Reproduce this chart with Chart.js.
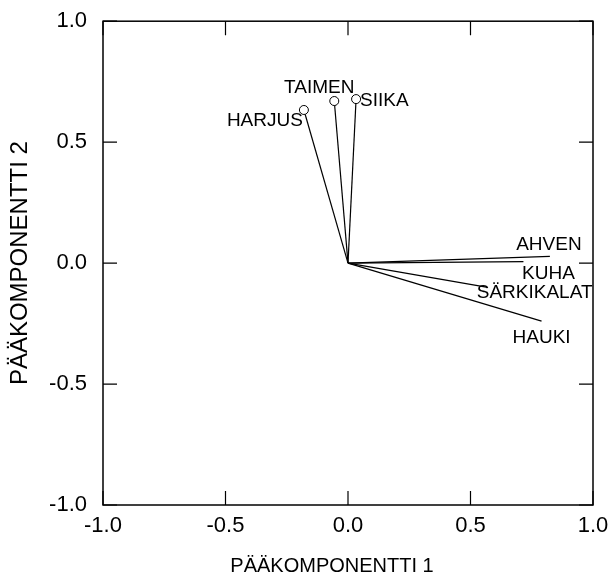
<!DOCTYPE html>
<html><head><meta charset="utf-8">
<script src="https://cdn.jsdelivr.net/npm/chart.js@4/dist/chart.umd.min.js"></script>
<style>html,body{margin:0;padding:0;background:#fff}#wrap{width:610px;height:583px}</style>
</head><body><div id="wrap"><canvas id="c" width="610" height="583"></canvas></div>
<script>
// ---- data ----
const species = ['HARJUS','TAIMEN','SIIKA','AHVEN','KUHA','SÄRKIKALAT','HAUKI'];
const pc1 = [-0.18, -0.056, 0.033, 0.824, 0.716, 0.57, 0.79];
const pc2 = [0.633, 0.67, 0.678, 0.028, 0.006, -0.10, -0.24];
const hasCircle = [true, true, true, false, false, false, false];
const tickValues = [-1.0, -0.5, 0.0, 0.5, 1.0];
const xTitle = 'PÄÄKOMPONENTTI 1';
const yTitle = 'PÄÄKOMPONENTTI 2';

// ---- styles (pixel offsets of labels from vector ends) ----
const labelStyle = [
  {dx:-1,  dy:11,  align:'right'},
  {dx:-15, dy:-13, align:'center'},
  {dx:4,   dy:2,   align:'left'},
  {dx:-1,  dy:-12, align:'center'},
  {dx:25,  dy:12,  align:'center'},
  {dx:47,  dy:5,   align:'center'},
  {dx:0,   dy:17,  align:'center'}
];
const FONT = "'Liberation Sans', Arial, Helvetica, sans-serif";
const TARGET = {left:103, top:16, right:593, bottom:505};

const datasets = species.map((s, i) => ({
  label: s,
  data: [{x:0, y:0}, {x:pc1[i], y:pc2[i]}],
  showLine: true,
  borderColor: '#000',
  borderWidth: 1.2,
  pointRadius: [0, hasCircle[i] ? 4.5 : 0],
  pointBorderWidth: 1,
  pointBorderColor: '#000',
  pointBackgroundColor: '#fff'
}));

const framePlugin = {
  id: 'frame',
  afterDatasetsDraw(chart) {
    const {ctx, chartArea: a, scales: {x, y}} = chart;
    ctx.save();
    ctx.strokeStyle = '#000';
    ctx.lineWidth = 1.5;
    ctx.strokeRect(a.left, a.top, a.right - a.left, a.bottom - a.top);
    const L = 14;
    ctx.lineWidth = 1.2;
    ctx.beginPath();
    tickValues.forEach(v => {
      const px = x.getPixelForValue(v), py = y.getPixelForValue(v);
      ctx.moveTo(px, a.bottom); ctx.lineTo(px, a.bottom - L);
      ctx.moveTo(px, a.top); ctx.lineTo(px, a.top + L);
      ctx.moveTo(a.left, py); ctx.lineTo(a.left + L, py);
      ctx.moveTo(a.right, py); ctx.lineTo(a.right - L, py);
    });
    ctx.stroke();
    ctx.fillStyle = '#000';
    // x title
    ctx.font = '20px ' + FONT;
    ctx.textAlign = 'center';
    ctx.textBaseline = 'middle';
    ctx.fillText(xTitle, x.getPixelForValue(0) - 16, 566);
    // labels
    ctx.font = '19px ' + FONT;
    species.forEach((s, i) => {
      const st = labelStyle[i];
      ctx.textAlign = st.align;
      ctx.fillText(s, x.getPixelForValue(pc1[i]) + st.dx, y.getPixelForValue(pc2[i]) + st.dy);
    });
    ctx.restore();
  }
};

const pad = { top: 16, right: 17, left: 0, bottom: 0 };
const fit = { xh: 78, yw: 103 };

const chart = new Chart(document.getElementById('c'), {
  type: 'scatter',
  data: { datasets },
  options: {
    responsive: false,
    animation: false,
    devicePixelRatio: 1,
    layout: { padding: pad },
    plugins: { legend: { display: false }, tooltip: { enabled: false } },
    scales: {
      x: {
        type: 'linear', min: -1, max: 1,
        afterBuildTicks: s => { s.ticks = tickValues.map(v => ({value: v})); },
        afterFit: s => { s.height = fit.xh; },
        grid: { display: false }, border: { display: false },
        ticks: { color: '#000', font: { family: FONT, size: 22 }, padding: 0, maxRotation: 0,
                 callback: v => Number(v).toFixed(1) },
        title: { display: false }
      },
      y: {
        type: 'linear', min: -1, max: 1,
        afterBuildTicks: s => { s.ticks = tickValues.map(v => ({value: v})); },
        afterFit: s => { s.width = fit.yw; },
        grid: { display: false }, border: { display: false },
        ticks: { color: '#000', font: { family: FONT, size: 22 }, padding: 8,
                 callback: v => Number(v).toFixed(1) },
        title: { display: true, text: yTitle, color: '#000', font: { family: FONT, size: 24 }, padding: { top: 6, bottom: 0 } }
      }
    }
  },
  plugins: [framePlugin]
});

// correct the plot area so it sits exactly at the target frame
for (let k = 0; k < 3; k++) {
  const a = chart.chartArea;
  const dl = TARGET.left - a.left, dt = TARGET.top - a.top;
  const dr = a.right - TARGET.right, db = a.bottom - TARGET.bottom;
  if (Math.abs(dl) + Math.abs(dt) + Math.abs(dr) + Math.abs(db) < 0.5) break;
  fit.yw += dl;
  pad.top += dt;
  pad.right += dr;
  fit.xh += db;
  chart.options.layout.padding = Object.assign({}, pad);
  chart.update();
}
</script>
</body></html>
